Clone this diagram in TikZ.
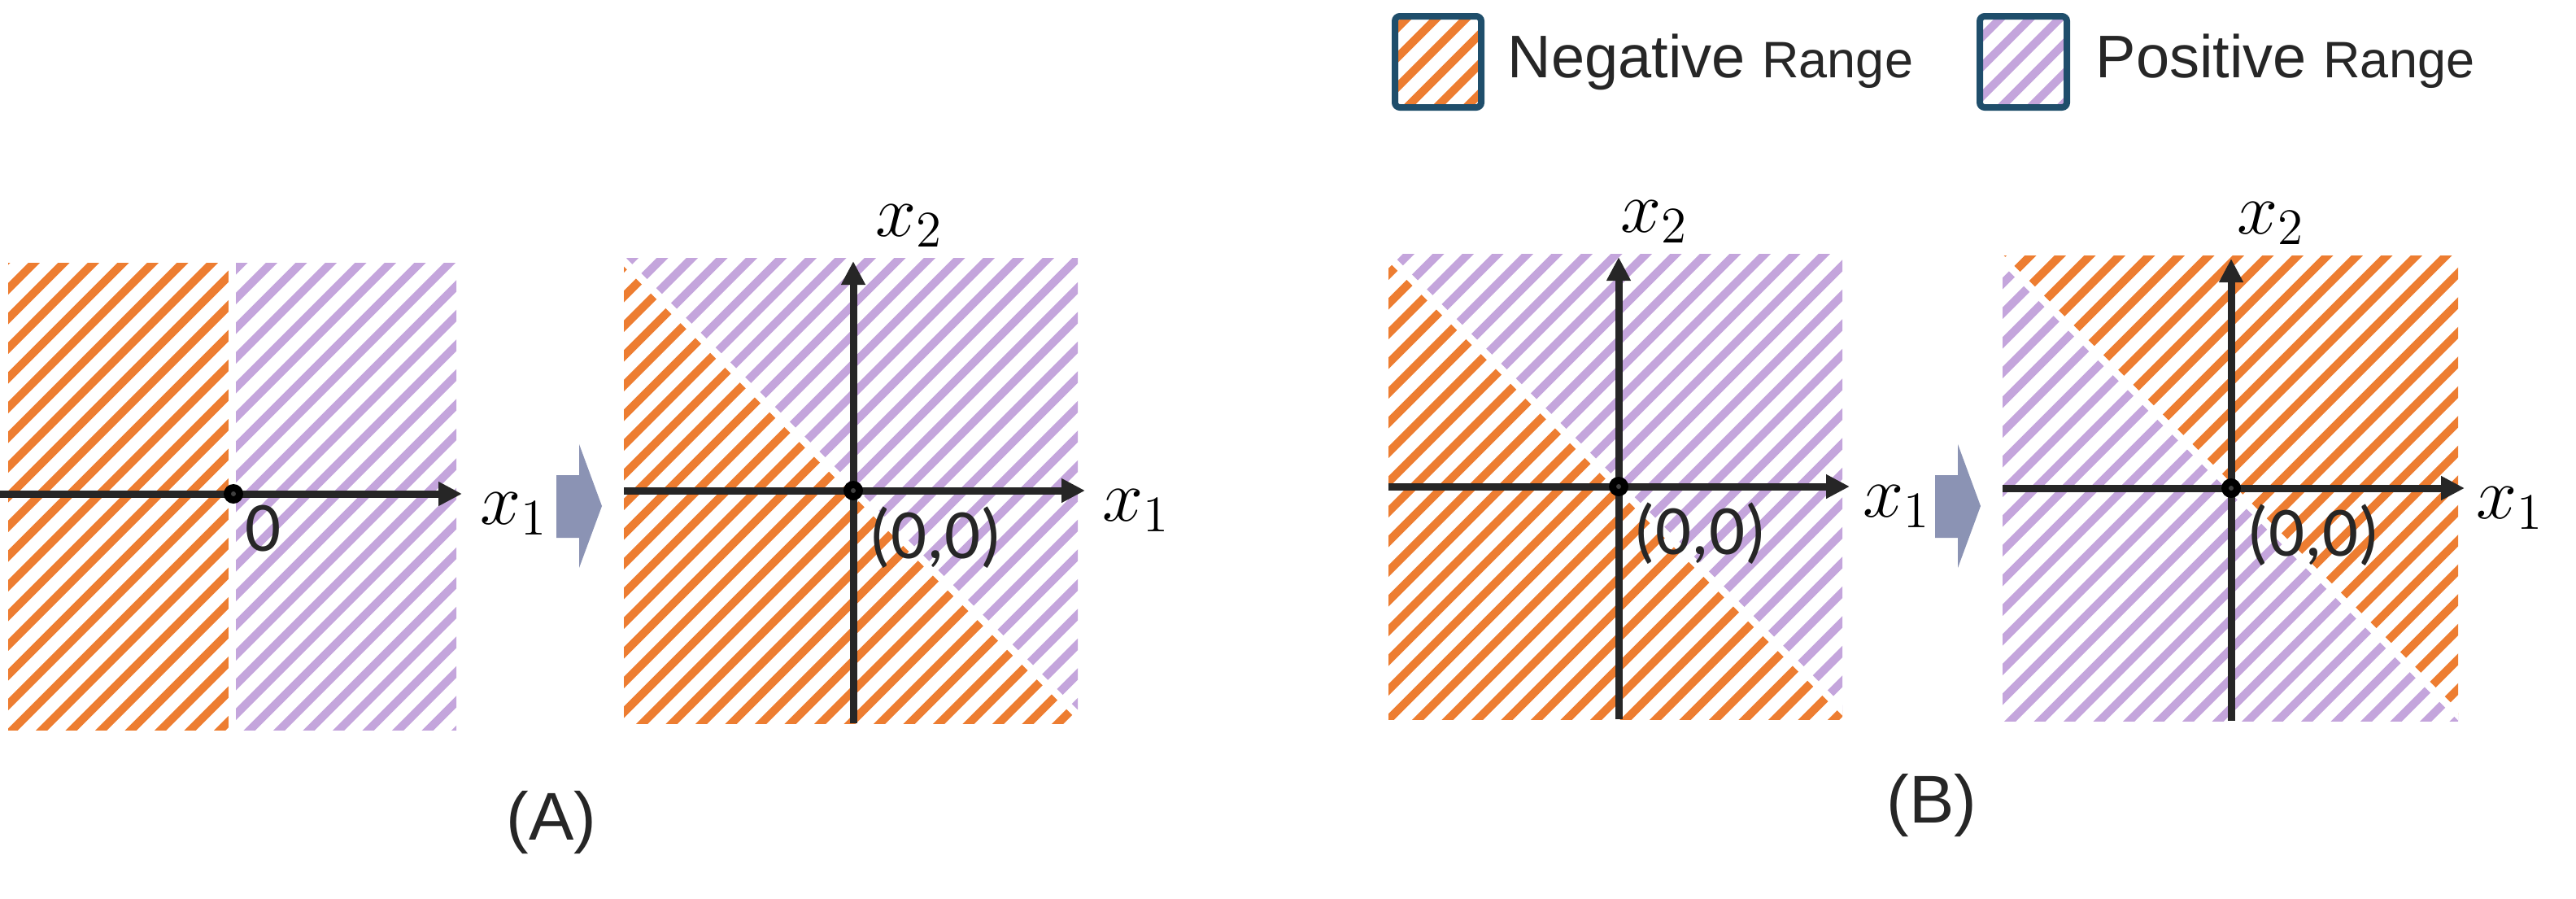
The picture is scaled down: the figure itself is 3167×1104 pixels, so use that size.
\RequirePackage{fix-cm}
\documentclass[tikz,border=0pt]{standalone}
\usepackage{fontspec}
\newfontfamily\arialf{Liberation Sans}
\newfontfamily\calib{Carlito}
\usetikzlibrary{arrows.meta}
\definecolor{negc}{RGB}{237,125,49}
\definecolor{posc}{RGB}{196,165,220}
\definecolor{axc}{RGB}{38,38,38}
\definecolor{chev}{RGB}{139,147,180}
\definecolor{legb}{RGB}{31,78,107}

% hatch a rectangle's bounding area (clip set outside): color, x0, y0, x1, y1
\newcommand{\hatchrect}[5]{%
  \pgfmathtruncatemacro{\kA}{floor((#2+#3)/36.5)-1}%
  \pgfmathtruncatemacro{\kB}{ceil((#4+#5)/36.5)+1}%
  \foreach \k in {\kA,...,\kB}{%
    \draw[#1, line width=2.5pt] ({36.5*\k-#3+20},{#3-20}) -- ({36.5*\k-#5-20},{#5+20});
  }%
}
% quadrant panel: L,T,R,B,X0,Y0, lower-left colour, upper-right colour
\newcommand{\quadpanel}[8]{%
  \begin{scope}
    \clip (#1,#2) rectangle (#3,#4);
    \begin{scope}
      \clip ({#5-1000},{#6-1000}) -- ({#5+1000},{#6+1000}) -- ({#5-1000},{#6+1000}) -- cycle;
      \hatchrect{#7}{#1}{#2}{#3}{#4}
    \end{scope}
    \begin{scope}
      \clip ({#5-1000},{#6-1000}) -- ({#5+1000},{#6+1000}) -- ({#5+1000},{#6-1000}) -- cycle;
      \hatchrect{#8}{#1}{#2}{#3}{#4}
    \end{scope}
    \draw[white, line width=2.25pt] ({#5-1000},{#6-1000}) -- ({#5+1000},{#6+1000});
  \end{scope}%
}

\tikzset{
  axis/.style={axc, line width=2.25pt, -{Triangle[length=7.25pt, width=7pt]}},
  origdot/.style={circle, fill=black, minimum size=6pt, inner sep=0pt},
  mathlbl/.style={inner sep=0pt, font=\fontsize{22.5pt}{27pt}\selectfont},
  numlbl/.style={inner sep=0pt, font=\calib\fontsize{21.75pt}{26pt}\selectfont, text=axc},
  caplbl/.style={inner sep=0pt, font=\arialf\fontsize{20.75pt}{25pt}\selectfont, text=axc},
  chevron/.style={fill=chev},
}

\begin{document}
\begin{tikzpicture}[x=0.25pt,y=-0.25pt]
\useasboundingbox (0,0) rectangle (3167,1104);

% ---------- legend ----------
\begin{scope}
  \clip (1719,24) rectangle (1817,128);
  \hatchrect{negc}{1719}{24}{1817}{128}
\end{scope}
\draw[legb, line width=2pt, rounded corners=1.5pt] (1715,20) rectangle (1821,132);
\node[anchor=base west, inner sep=0pt, text=axc] (negt) at (1853,95)
  {\arialf\fontsize{18.5pt}{22pt}\selectfont Negative \fontsize{15.75pt}{20pt}\selectfont Range};
\begin{scope}
  \clip (2438,24) rectangle (2537,128);
  \hatchrect{posc}{2438}{24}{2537}{128}
\end{scope}
\draw[legb, line width=2pt, rounded corners=1.5pt] (2434,20) rectangle (2541,132);
\node[anchor=base west, inner sep=0pt, text=axc] (post) at (2576,95)
  {\arialf\fontsize{18.5pt}{22pt}\selectfont Positive \fontsize{15.75pt}{20pt}\selectfont Range};

% ---------- panel 1 ----------
\begin{scope}
  \clip (10,323) rectangle (285.5,897);
  \hatchrect{negc}{10}{323}{286}{897}
\end{scope}
\begin{scope}
  \clip (285.5,323) rectangle (561,897);
  \hatchrect{posc}{285}{323}{561}{897}
\end{scope}
\draw[white, line width=2.25pt] (285.5,318) -- (285.5,902);
\coordinate (p1s) at (0,607);
\coordinate (p1e) at (568,607);
\draw[axis] (p1s) -- (p1e);
\node[origdot] (o1) at (287,607) {};
\fill[black!75] (o1.center) circle (3);
\node[numlbl, anchor=north west] (z1) at (301,620) {0};
\node[mathlbl, anchor=base west] (p1x1) at (590,644) {$x_1$};

% ---------- chevron 1 ----------
\fill[chevron] (684,584) -- (712,584) -- (712,546) -- (740,622) -- (712,698) -- (712,661) -- (684,661) -- cycle;

% ---------- panel 2 ----------
\quadpanel{767}{317}{1325}{889}{1049}{603}{negc}{posc}
\coordinate (p2l) at (767,603);
\coordinate (p2r) at (1334,603);
\coordinate (p2b) at (1049,889);
\coordinate (p2t) at (1049,321);
\draw[axis] (p2l) -- (p2r);
\draw[axis] (p2b) -- (p2t);
\node[origdot] (o2) at (1049,603) {};
\fill[black!75] (o2.center) circle (3);
\node[numlbl, anchor=north west] (z2) at (1068,622) {(0,0)};
\node[mathlbl, anchor=base west] (p2x1) at (1355,640) {$x_1$};
\node[mathlbl, anchor=base west] (p2x2) at (1076,290) {$x_2$};

% ---------- panel 3 ----------
\quadpanel{1707}{312}{2265}{884}{1990}{598}{negc}{posc}
\coordinate (p3l) at (1707,598);
\coordinate (p3r) at (2274,598);
\coordinate (p3b) at (1990,884);
\coordinate (p3t) at (1990,316);
\draw[axis] (p3l) -- (p3r);
\draw[axis] (p3b) -- (p3t);
\node[origdot] (o3) at (1990,598) {};
\fill[black!75] (o3.center) circle (3);
\node[numlbl, anchor=north west] (z3) at (2008,617) {(0,0)};
\node[mathlbl, anchor=base west] (p3x1) at (2290,635) {$x_1$};
\node[mathlbl, anchor=base west] (p3x2) at (1992,285) {$x_2$};

% ---------- chevron 2 ----------
\fill[chevron] (2379,584) -- (2407,584) -- (2407,546) -- (2435,622) -- (2407,698) -- (2407,661) -- (2379,661) -- cycle;

% ---------- panel 4 ----------
\quadpanel{2462}{314}{3022}{886}{2743}{600}{posc}{negc}
\coordinate (p4l) at (2462,600);
\coordinate (p4r) at (3030,600);
\coordinate (p4b) at (2743,886);
\coordinate (p4t) at (2743,318);
\draw[axis] (p4l) -- (p4r);
\draw[axis] (p4b) -- (p4t);
\node[origdot] (o4) at (2743,600) {};
\fill[black!75] (o4.center) circle (3);
\node[numlbl, anchor=north west] (z4) at (2762,619) {(0,0)};
\node[mathlbl, anchor=base west] (p4x1) at (3044,637) {$x_1$};
\node[mathlbl, anchor=base west] (p4x2) at (2750,287) {$x_2$};

% ---------- captions ----------
\node[caplbl] (capA) at (678,1011) {(A)};
\node[caplbl] (capB) at (2375,990) {(B)};
\end{tikzpicture}
\end{document}
